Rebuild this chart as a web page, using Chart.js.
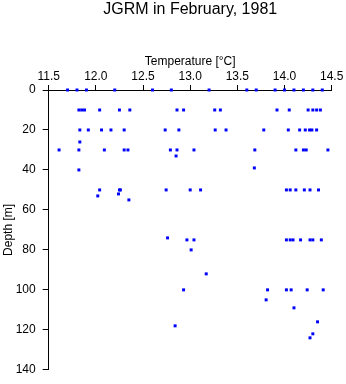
<!DOCTYPE html>
<html>
<head>
<meta charset="utf-8">
<script src="https://cdn.jsdelivr.net/npm/chart.js@4/dist/chart.umd.min.js"></script>
<style>
  html, body { margin: 0; padding: 0; background: #ffffff; }
  #wrap { width: 346px; height: 384px; }
</style>
</head>
<body>
<div id="wrap"><canvas id="profile" width="346" height="384"></canvas></div>
<script>
// Temperature readings (°C) grouped by sampling depth (m)
const depthLevels = [0, 10, 20, 26, 30, 33, 39, 40, 50, 52, 53, 55, 74, 75, 80, 92, 100, 105, 109, 116, 118, 122, 124];

const temp0m   = [11.7, 11.8, 11.9, 12.2, 12.6, 12.8, 13.2, 13.6, 13.7, 13.9, 14.0, 14.1, 14.2, 14.3, 14.4];
const temp10m  = [11.82, 11.85, 11.88, 12.04, 12.25, 12.36, 12.86, 12.93, 13.26, 13.32, 13.92, 14.05, 14.25, 14.30, 14.34, 14.38];
const temp20m  = [11.83, 11.92, 12.06, 12.16, 12.30, 12.735, 12.88, 13.265, 13.38, 13.78, 14.04, 14.16, 14.22, 14.265, 14.29, 14.34];
const temp26m  = [11.83];
const temp30m  = [11.61, 11.82, 12.09, 12.30, 12.34, 12.79, 12.86, 13.04, 13.685, 14.12, 14.20, 14.23, 14.46];
const temp33m  = [12.85];
const temp39m  = [13.68];
const temp40m  = [11.82];
const temp50m  = [12.04, 12.25, 12.26, 12.745, 13.0, 13.11, 14.02, 14.06, 14.12, 14.21, 14.27, 14.36];
const temp52m  = [12.24];
const temp53m  = [12.02];
const temp55m  = [12.35];
const temp74m  = [12.76];
const temp75m  = [12.965, 13.04, 14.02, 14.06, 14.09, 14.17, 14.27, 14.30, 14.39];
const temp80m  = [13.01];
const temp92m  = [13.17];
const temp100m = [12.93, 13.82, 14.02, 14.07, 14.24, 14.41];
const temp105m = [13.805];
const temp109m = [14.10];
const temp116m = [14.35];
const temp118m = [12.84];
const temp122m = [14.30];
const temp124m = [14.27];

const tempsByLevel = [temp0m, temp10m, temp20m, temp26m, temp30m, temp33m, temp39m, temp40m,
  temp50m, temp52m, temp53m, temp55m, temp74m, temp75m, temp80m, temp92m,
  temp100m, temp105m, temp109m, temp116m, temp118m, temp122m, temp124m];

const xTickValues = [11.5, 12, 12.5, 13, 13.5, 14, 14.5];
const yTickValues = [0, 20, 40, 60, 80, 100, 120, 140];

const points = [];
depthLevels.forEach((d, i) => {
  tempsByLevel[i].forEach(t => points.push({ x: t, y: d }));
});

const FONT = "'Liberation Sans', Arial, Helvetica, sans-serif";

new Chart(document.getElementById('profile'), {
  type: 'scatter',
  data: {
    datasets: [{
      data: points,
      pointStyle: 'rect',
      pointRadius: 2.1,
      pointBorderWidth: 0,
      backgroundColor: '#0000ff',
      borderColor: '#0000ff',
      clip: false
    }]
  },
  options: {
    responsive: false,
    animation: false,
    events: [],
    layout: { padding: { left: 0, right: 14.3, top: 0, bottom: 8.4 } },
    plugins: {
      legend: { display: false },
      tooltip: { enabled: false },
      title: {
        display: true,
        text: 'JGRM in February, 1981',
        fullSize: false,
        color: '#000000',
        font: { family: FONT, size: 16, weight: 'normal' },
        padding: { top: 0, bottom: 28.8 }
      }
    },
    scales: {
      x: {
        type: 'linear',
        position: 'top',
        min: 11.5,
        max: 14.5,
        afterBuildTicks: s => { s.ticks = xTickValues.map(v => ({ value: v })); },
        ticks: {
          color: '#000000',
          font: { family: FONT, size: 12 },
          padding: 1.5,
          maxRotation: 0,
          autoSkip: false
        },
        grid: { drawOnChartArea: false, drawTicks: true, tickLength: 5, color: '#000000', lineWidth: 1 },
        border: { display: true, color: '#000000', width: 1 },
        title: {
          display: true,
          text: 'Temperature [°C]',
          color: '#000000',
          font: { family: FONT, size: 12 },
          padding: { top: 6.3, bottom: 0 }
        },
        afterFit: s => { s.height = 42; }
      },
      y: {
        type: 'linear',
        reverse: true,
        min: 0,
        max: 140,
        afterBuildTicks: s => { s.ticks = yTickValues.map(v => ({ value: v })); },
        ticks: {
          color: '#000000',
          font: { family: FONT, size: 12 },
          padding: 7,
          autoSkip: false
        },
        grid: { drawOnChartArea: false, drawTicks: true, tickLength: 6, color: '#000000', lineWidth: 1 },
        border: { display: true, color: '#000000', width: 1 },
        title: {
          display: true,
          text: 'Depth [m]',
          color: '#000000',
          font: { family: FONT, size: 12 },
          padding: { top: 1, bottom: 0 }
        },
        afterFit: s => { s.width = 48.7; }
      }
    }
  }
});
</script>
</body>
</html>
